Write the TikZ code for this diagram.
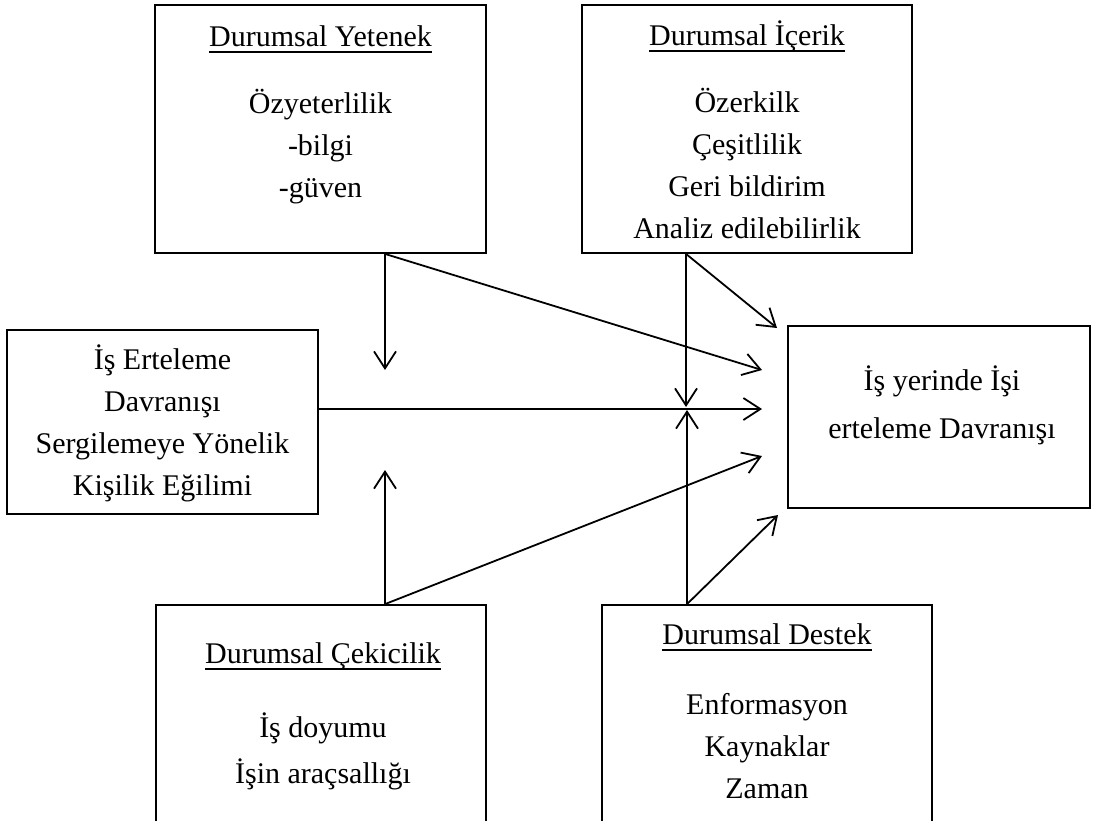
\documentclass[tikz,border=0pt]{standalone}
\usepackage{fontspec}
\setmainfont{Liberation Serif}
\usetikzlibrary{arrows.meta}

\newcommand{\ulttl}[1]{\setbox0\hbox{#1}\rlap{\rule[-7pt]{\wd0}{1.8pt}}\box0}

\begin{document}
\begin{tikzpicture}[x=1pt, y=-1pt,
    box/.style={draw, line width=1.8pt, inner sep=0pt},
    txt/.style={align=center, anchor=base, inner sep=0pt, font=\fontsize{30}{42}\selectfont},
    arr/.style={line width=1.8pt, -{Straight Barb[length=17pt, width=22pt]}}]
    \clip (0,0) rectangle (1102,820);

    \node[box, minimum width=331pt, minimum height=248pt] (a) at (320.5,129) {};
    \node[box, minimum width=330pt, minimum height=248pt] (b) at (747,129) {};
    \node[box, minimum width=311pt, minimum height=184pt] (c) at (162.5,422) {};
    \node[box, minimum width=302pt, minimum height=182pt] (d) at (939,417) {};
    \node[box, minimum width=330pt, minimum height=230pt] (e) at (321,720) {};
    \node[box, minimum width=330pt, minimum height=230pt] (f) at (767,720) {};

    \node[txt] (ta) at (320.5,197) {\ulttl{Durumsal Yetenek}\\[25pt]Özyeterlilik\\-bilgi\\-güven};
    \node[txt] (tb) at (747,238) {\ulttl{Durumsal İçerik}\\[25pt]Özerkilk\\Çeşitlilik\\Geri bildirim\\Analiz edilebilirlik};
    \node[txt] (tc) at (162.5,495) {İş Erteleme\\Davranışı\\Sergilemeye Yönelik\\Kişilik Eğilimi};
    \node[txt] (td) at (942,438) {İş yerinde İşi\\[6pt]erteleme Davranışı};
    \node[txt] (te) at (323,783) {\ulttl{Durumsal Çekicilik}\\[32pt]İş doyumu\\[4pt]İşin araçsallığı};
    \node[txt] (tf) at (767,798) {\ulttl{Durumsal Destek}\\[28pt]Enformasyon\\Kaynaklar\\Zaman};

    \coordinate (a1) at ([xshift=64.5pt]a.south);
    \coordinate (b1) at ([xshift=-61pt]b.south);
    \coordinate (c1) at ([yshift=13pt]c.east);
    \coordinate (e1) at ([xshift=64pt]e.north);
    \coordinate (f1) at ([xshift=-80pt]f.north);

    \coordinate (p1) at (385,370);
    \coordinate (p2) at (762,370);
    \coordinate (p3) at (686,407);
    \coordinate (p4) at (777,328);
    \coordinate (p5) at (762,409);
    \coordinate (p6) at (385,470);
    \coordinate (p7) at (762,456);
    \coordinate (p8) at (687,410);
    \coordinate (p9) at (778,515);

    \draw[arr] (a1) -- (p1);
    \draw[arr] (a1) -- (p2);
    \draw[arr] (b1) -- (p3);
    \draw[arr] (b1) -- (p4);
    \draw[arr] (c1) -- (p5);
    \draw[arr] (e1) -- (p6);
    \draw[arr] (e1) -- (p7);
    \draw[arr] (f1) -- (p8);
    \draw[arr] (f1) -- (p9);
\end{tikzpicture}
\end{document}
